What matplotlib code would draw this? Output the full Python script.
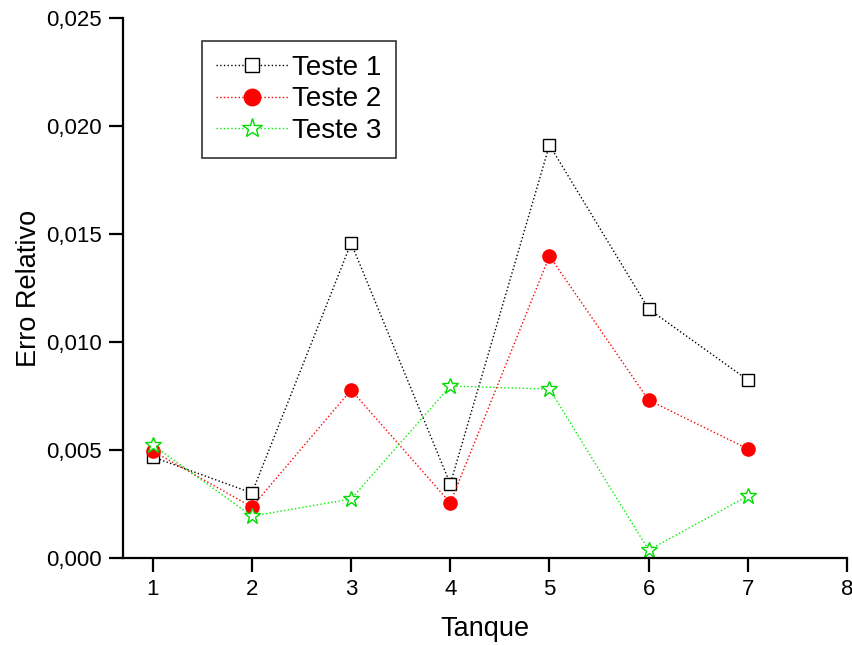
import matplotlib
matplotlib.use("Agg")
import matplotlib.pyplot as plt
from matplotlib.ticker import FuncFormatter

plt.rcParams['font.family'] = ['Liberation Sans', 'DejaVu Sans']

tanque = [1, 2, 3, 4, 5, 6, 7]
teste1 = [0.00468, 0.00301, 0.01458, 0.00343, 0.01912, 0.01153, 0.00824]
teste2 = [0.00495, 0.00236, 0.00778, 0.00255, 0.01398, 0.00731, 0.00505]
teste3 = [0.00523, 0.00194, 0.00273, 0.00796, 0.00782, 0.00037, 0.00287]

fig = plt.figure(figsize=(8.53, 6.45), dpi=100)
ax = fig.add_axes([123/853, 1-558/645, (847-123)/853, (558-18)/645])

ax.plot(tanque, teste1, linestyle=':', color='black', linewidth=1, marker='s',
        markersize=8, markerfacecolor='white', markeredgecolor='black',
        markeredgewidth=1, label='Teste 1')
ax.plot(tanque, teste2, linestyle=':', color='red', linewidth=1, marker='o',
        markersize=9.5, markerfacecolor='red', markeredgecolor='red', label='Teste 2')
ax.plot(tanque, teste3, linestyle=':', color='#00ee00', linewidth=1, marker='*',
        markersize=12, markerfacecolor='white', markeredgecolor='#00dd00',
        markeredgewidth=1, label='Teste 3')

ax.set_xlim(0.7, 8)
ax.set_ylim(0, 0.025)
ax.set_xticks(range(1, 9))
ax.set_yticks([0, 0.005, 0.010, 0.015, 0.020, 0.025])
ax.yaxis.set_major_formatter(FuncFormatter(lambda v, p: f"{v:.3f}".replace('.', ',')))

for s in ['top', 'right']:
    ax.spines[s].set_visible(False)
for s in ['left', 'bottom']:
    ax.spines[s].set_linewidth(1.6)
ax.tick_params(direction='out', length=10, width=1.6, labelsize=16, pad=5)

ax.set_xlabel('Tanque', fontsize=19.5, labelpad=12)
ax.set_ylabel('Erro Relativo', fontsize=19.5, labelpad=3)

leg = ax.legend(loc='upper left', bbox_to_anchor=((202-123)/724, 1-(41-18)/540),
                fontsize=20, frameon=True, fancybox=False, edgecolor='black',
                borderpad=0.5, labelspacing=0.2, handlelength=2.6,
                handletextpad=0.15, borderaxespad=0, markerscale=1.25)
leg.get_frame().set_linewidth(1.2)

fig.savefig('out.png', dpi=100)
